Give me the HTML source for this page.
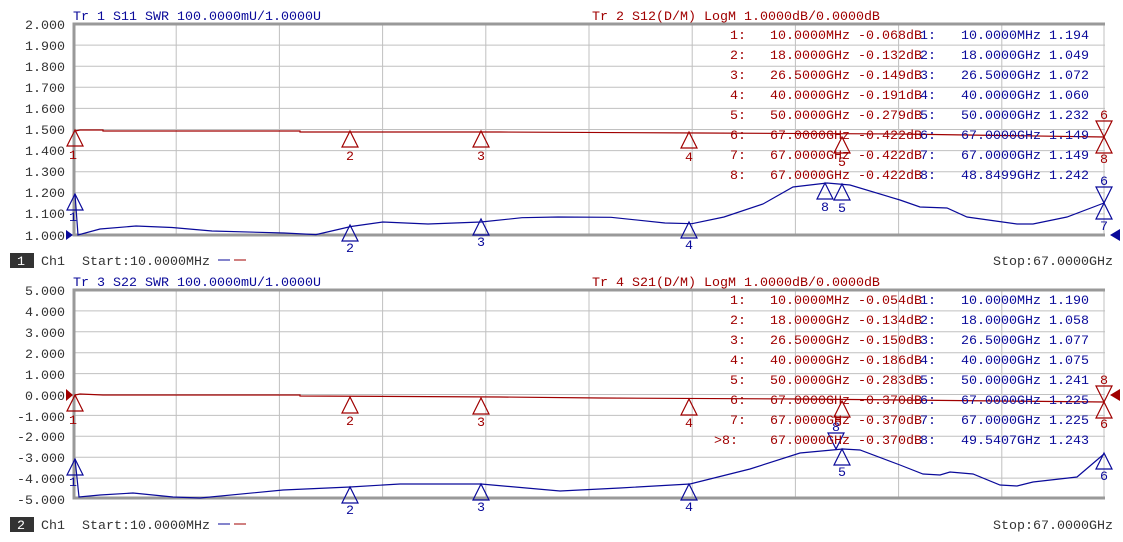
<!DOCTYPE html>
<html><head><meta charset="utf-8"><style>
body{margin:0;background:#fff;}
svg{display:block;font-family:"Liberation Mono",monospace;font-size:13.33px;}
.k{fill:#333;}
.b{fill:#0a0a9a;}
.r{fill:#a00000;}
.g{stroke:#c0c0c0;stroke-width:1;fill:none;}
.ax{stroke:#999;stroke-width:3;fill:none;}
.tb{fill:none;stroke:#0a0a9a;stroke-width:1.2;}
.tr{fill:none;stroke:#a00000;stroke-width:1.2;}
</style></head><body>
<svg width="1123" height="542" viewBox="0 0 1123 542" xmlns="http://www.w3.org/2000/svg">
<!-- TOP PLOT -->
<g class="g">
<path d="M73 45.1H1105M73 66.2H1105M73 87.3H1105M73 108.4H1105M73 129.5H1105M73 150.6H1105M73 171.7H1105M73 192.8H1105M73 213.9H1105"/>
<path d="M176.2 24V235M279.4 24V235M382.6 24V235M485.8 24V235M589 24V235M692.2 24V235M795.4 24V235M898.6 24V235M1001.8 24V235M1104 24V235"/>
</g>
<path class="ax" d="M1105 24H74V235H1105"/>
<g class="k" text-anchor="end">
<text x="65" y="29">2.000</text><text x="65" y="50">1.900</text><text x="65" y="71">1.800</text><text x="65" y="92">1.700</text><text x="65" y="113">1.600</text><text x="65" y="134">1.500</text><text x="65" y="155">1.400</text><text x="65" y="176">1.300</text><text x="65" y="197">1.200</text><text x="65" y="218">1.100</text><text x="65" y="240">1.000</text>
</g>
<text class="b" x="73" y="20">Tr 1  S11 SWR 100.0000mU/1.0000U</text>
<text class="r" x="592" y="20">Tr 2  S12(D/M) LogM 1.0000dB/0.0000dB</text>
<polyline class="tr" points="75,131 80,130 103,130 103,131 300,131 300,132 500,132 700,133 900,134 1104,137"/>
<polyline class="tb" points="75,194 78,235 100,229 136,226 172,227.5 212,231 284,233 316,234.6 351,226.5 383,222 428,224 481,222 522,217.7 558,217 611,217.3 665,223 692,223.7 724,217 763,204 793,187 827,183 850,185 900,200 920,207 947,208 967,217 1017,224 1033,224 1067,217 1104,203"/>
<polygon points="66,230 73,235 66,240" fill="#0a0a9a"/>
<polygon points="1120,229 1110,235 1120,241" fill="#0a0a9a"/>
<!-- top red markers -->
<g class="tr">
<path d="M75 130L67 146H83Z"/><path d="M350 131L342 147H358Z"/><path d="M481 131L473 147H489Z"/><path d="M689 132L681 148H697Z"/><path d="M842 137L834 153H850Z"/>
<path d="M1104 137L1096 121H1112Z"/><path d="M1104 137L1096 153H1112Z"/>
</g>
<g class="r" text-anchor="middle">
<text x="73" y="159">1</text><text x="350" y="160">2</text><text x="481" y="160">3</text><text x="689" y="161">4</text><text x="842" y="166">5</text><text x="1104" y="119">6</text><text x="1104" y="163">8</text>
</g>
<!-- top blue markers -->
<g class="tb">
<path d="M75 194L67 210H83Z"/><path d="M350 225L342 241H358Z"/><path d="M481 219L473 235H489Z"/><path d="M689 222L681 238H697Z"/><path d="M825 183L817 199H833Z"/><path d="M842 184L834 200H850Z"/>
<path d="M1104 203L1096 187H1112Z"/><path d="M1104 203L1096 219H1112Z"/>
</g>
<g class="b" text-anchor="middle">
<text x="73" y="221">1</text><text x="350" y="252">2</text><text x="481" y="246">3</text><text x="689" y="249">4</text><text x="825" y="211">8</text><text x="842" y="212">5</text><text x="1104" y="185">6</text><text x="1104" y="230">7</text>
</g>
<!-- top tables -->
<g class="r">
<text x="730" y="39">1:</text><text x="770" y="39">10.0000MHz -0.068dB</text>
<text x="730" y="59">2:</text><text x="770" y="59">18.0000GHz -0.132dB</text>
<text x="730" y="79">3:</text><text x="770" y="79">26.5000GHz -0.149dB</text>
<text x="730" y="99">4:</text><text x="770" y="99">40.0000GHz -0.191dB</text>
<text x="730" y="119">5:</text><text x="770" y="119">50.0000GHz -0.279dB</text>
<text x="730" y="139">6:</text><text x="770" y="139">67.0000GHz -0.422dB</text>
<text x="730" y="159">7:</text><text x="770" y="159">67.0000GHz -0.422dB</text>
<text x="730" y="179">8:</text><text x="770" y="179">67.0000GHz -0.422dB</text>
</g>
<g class="b">
<text x="920" y="39">1:</text><text x="961" y="39">10.0000MHz 1.194</text>
<text x="920" y="59">2:</text><text x="961" y="59">18.0000GHz 1.049</text>
<text x="920" y="79">3:</text><text x="961" y="79">26.5000GHz 1.072</text>
<text x="920" y="99">4:</text><text x="961" y="99">40.0000GHz 1.060</text>
<text x="920" y="119">5:</text><text x="961" y="119">50.0000GHz 1.232</text>
<text x="920" y="139">6:</text><text x="961" y="139">67.0000GHz 1.149</text>
<text x="920" y="159">7:</text><text x="961" y="159">67.0000GHz 1.149</text>
<text x="920" y="179">8:</text><text x="961" y="179">48.8499GHz 1.242</text>
</g>
<!-- ch bar 1 -->
<rect x="10" y="253" width="24" height="15" fill="#333"/>
<text x="17" y="265" fill="#fff">1</text>
<text class="k" x="41" y="265">Ch1</text>
<text class="k" x="82" y="265">Start:10.0000MHz</text>
<path d="M218 260H230" stroke="#0a0a9a"/><path d="M234 260H246" stroke="#a00000"/>
<text class="k" x="1113" y="265" text-anchor="end">Stop:67.0000GHz</text>

<!-- BOTTOM PLOT -->
<g class="g">
<path d="M73 310.9H1105M73 331.8H1105M73 352.7H1105M73 373.6H1105M73 394.5H1105M73 415.4H1105M73 436.3H1105M73 457.2H1105M73 478.1H1105"/>
<path d="M176.2 290V499M279.4 290V499M382.6 290V499M485.8 290V499M589 290V499M692.2 290V499M795.4 290V499M898.6 290V499M1001.8 290V499M1104 290V499"/>
</g>
<path class="ax" d="M1105 290H74V498H1105"/>
<g class="k" text-anchor="end">
<text x="65" y="295">5.000</text><text x="65" y="316">4.000</text><text x="65" y="337">3.000</text><text x="65" y="358">2.000</text><text x="65" y="379">1.000</text><text x="65" y="400">0.000</text><text x="65" y="421">-1.000</text><text x="65" y="441">-2.000</text><text x="65" y="462">-3.000</text><text x="65" y="483">-4.000</text><text x="65" y="504">-5.000</text>
</g>
<text class="b" x="73" y="286">Tr 3  S22 SWR 100.0000mU/1.0000U</text>
<text class="r" x="592" y="286">Tr 4  S21(D/M) LogM 1.0000dB/0.0000dB</text>
<polyline class="tr" points="75,395 80,394 103,395 300,395 300,396 500,397 600,398 800,399 1000,401 1104,402"/>
<polyline class="tb" points="75,459 79,497 100,495 133,493 173,497 200,498 283,490 350,487 400,484 481,484 560,491 620,488 690,484 750,469 800,453 843,449 860,450 900,465 923,474 940,475 950,472 973,474 1000,485 1017,486 1033,482 1077,477 1104,454"/>
<polygon points="66,389 73,395 66,401" fill="#a00000"/>
<polygon points="1120,389 1110,395 1120,401" fill="#a00000"/>
<!-- bottom red markers -->
<g class="tr">
<path d="M75 395L67 411H83Z"/><path d="M350 397L342 413H358Z"/><path d="M481 398L473 414H489Z"/><path d="M689 399L681 415H697Z"/><path d="M842 401L834 417H850Z"/>
<path d="M1104 402L1096 386H1112Z"/><path d="M1104 402L1096 418H1112Z"/>
</g>
<g class="r" text-anchor="middle">
<text x="73" y="424">1</text><text x="350" y="425">2</text><text x="481" y="426">3</text><text x="689" y="427">4</text><text x="838" y="426">5</text><text x="1104" y="384">8</text><text x="1104" y="428">6</text>
</g>
<g class="tb">
<path d="M75 459L67 475H83Z"/><path d="M350 487L342 503H358Z"/><path d="M481 484L473 500H489Z"/><path d="M689 484L681 500H697Z"/><path d="M842 449L834 465H850Z"/><path d="M836 449L828 433H844Z"/>
<path d="M1104 453L1096 469H1112Z"/>
</g>
<g class="b" text-anchor="middle">
<text x="73" y="486">1</text><text x="350" y="514">2</text><text x="481" y="511">3</text><text x="689" y="511">4</text><text x="842" y="476">5</text><text x="836" y="431">8</text><text x="1104" y="480">6</text>
</g>
<g class="r">
<text x="730" y="304">1:</text><text x="770" y="304">10.0000MHz -0.054dB</text>
<text x="730" y="324">2:</text><text x="770" y="324">18.0000GHz -0.134dB</text>
<text x="730" y="344">3:</text><text x="770" y="344">26.5000GHz -0.150dB</text>
<text x="730" y="364">4:</text><text x="770" y="364">40.0000GHz -0.186dB</text>
<text x="730" y="384">5:</text><text x="770" y="384">50.0000GHz -0.283dB</text>
<text x="730" y="404">6:</text><text x="770" y="404">67.0000GHz -0.370dB</text>
<text x="730" y="424">7:</text><text x="770" y="424">67.0000GHz -0.370dB</text>
<text x="714" y="444">&gt;8:</text><text x="770" y="444">67.0000GHz -0.370dB</text>
</g>
<g class="b">
<text x="920" y="304">1:</text><text x="961" y="304">10.0000MHz 1.190</text>
<text x="920" y="324">2:</text><text x="961" y="324">18.0000GHz 1.058</text>
<text x="920" y="344">3:</text><text x="961" y="344">26.5000GHz 1.077</text>
<text x="920" y="364">4:</text><text x="961" y="364">40.0000GHz 1.075</text>
<text x="920" y="384">5:</text><text x="961" y="384">50.0000GHz 1.241</text>
<text x="920" y="404">6:</text><text x="961" y="404">67.0000GHz 1.225</text>
<text x="920" y="424">7:</text><text x="961" y="424">67.0000GHz 1.225</text>
<text x="920" y="444">8:</text><text x="961" y="444">49.5407GHz 1.243</text>
</g>
<rect x="10" y="517" width="24" height="15" fill="#333"/>
<text x="17" y="529" fill="#fff">2</text>
<text class="k" x="41" y="529">Ch1</text>
<text class="k" x="82" y="529">Start:10.0000MHz</text>
<path d="M218 524H230" stroke="#0a0a9a"/><path d="M234 524H246" stroke="#a00000"/>
<text class="k" x="1113" y="529" text-anchor="end">Stop:67.0000GHz</text>
</svg>
</body></html>
